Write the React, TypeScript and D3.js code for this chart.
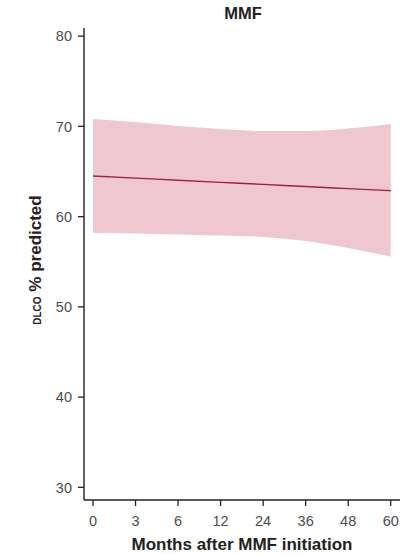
import React from "react";
import * as d3 from "d3";

const months = ["0", "3", "6", "12", "24", "36", "48", "60"];
const fitValues = [64.5, 64.27, 64.03, 63.8, 63.57, 63.33, 63.1, 62.87];
const upperValues = [70.81, 70.48, 70.03, 69.7, 69.48, 69.48, 69.76, 70.25];
const lowerValues = [58.22, 58.13, 58.02, 57.91, 57.74, 57.3, 56.52, 55.56];
const yTicks = [30, 40, 50, 60, 70, 80];

export default function App() {
  const W = 412, H = 554;
  const axisX = 84, axisY = 500;
  const x = d3.scalePoint<string>().domain(months).range([93, 390.7]);
  const y = d3.scaleLinear().domain([28.6, 80.9]).range([500, 28]);

  const rows = months.map((m, i) => ({ m, fit: fitValues[i], lo: lowerValues[i], hi: upperValues[i] }));
  const area = d3.area<any>()
    .x(d => x(d.m)!)
    .y0(d => y(d.lo))
    .y1(d => y(d.hi))
    .curve(d3.curveMonotoneX);
  const line = d3.line<any>()
    .x(d => x(d.m)!)
    .y(d => y(d.fit))
    .curve(d3.curveMonotoneX);

  const font = "'Liberation Sans', Arial, sans-serif";
  return (
    <svg width={W} height={H} style={{ position: "absolute", left: 0, top: 0, background: "#fff" }} fontFamily={font}>
      <text x={243} y={19} textAnchor="middle" fontSize={16.5} fontWeight="bold" fill="#222">MMF</text>
      <path d={area(rows)!} fill="#eec8ce" />
      <path d={line(rows)!} fill="none" stroke="#a3203c" strokeWidth={1.4} />
      <line x1={axisX} x2={axisX} y1={28} y2={axisY} stroke="#222" strokeWidth={1.4} />
      <line x1={axisX} x2={400} y1={axisY} y2={axisY} stroke="#222" strokeWidth={1.4} />
      {yTicks.map(t => (
        <g key={t}>
          <line x1={axisX - 6} x2={axisX} y1={y(t)} y2={y(t)} stroke="#222" strokeWidth={1.3} />
          <text x={axisX - 12} y={y(t)} dy="0.36em" textAnchor="end" fontSize={14.5} fill="#4d4d4d">{t}</text>
        </g>
      ))}
      {months.map(m => (
        <g key={m}>
          <line x1={x(m)!} x2={x(m)!} y1={axisY} y2={axisY + 6} stroke="#222" strokeWidth={1.3} />
          <text x={x(m)!} y={526} textAnchor="middle" fontSize={14.5} fill="#4d4d4d">{m}</text>
        </g>
      ))}
      <text x={242} y={550} textAnchor="middle" fontSize={17} fontWeight="bold" fill="#222">Months after MMF initiation</text>
      <text transform={`translate(41, 260) rotate(-90)`} textAnchor="middle" fontSize={17} fontWeight="bold" fill="#222">
        <tspan fontSize={10}>DLCO</tspan> % predicted
      </text>
    </svg>
  );
}
